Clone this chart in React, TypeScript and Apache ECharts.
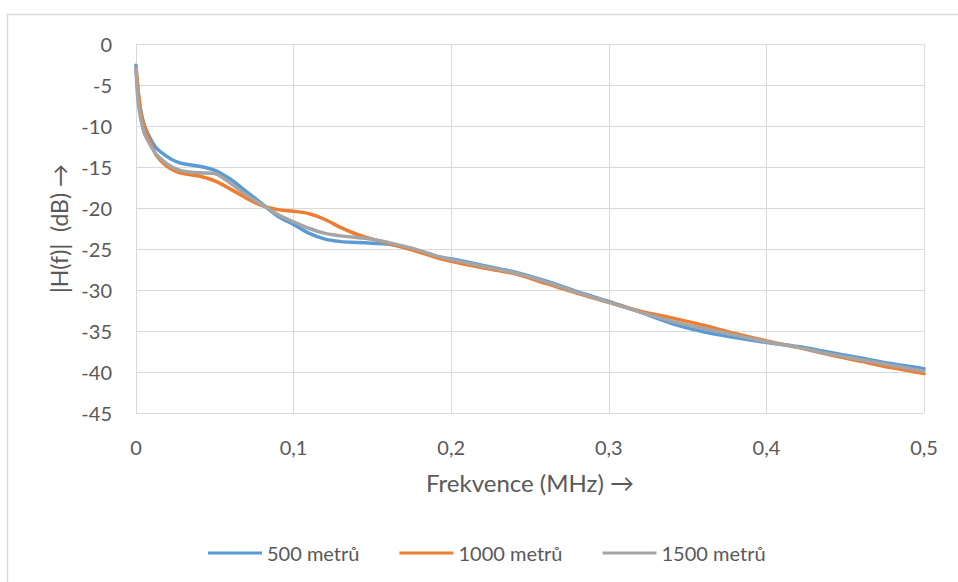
import React, { useEffect, useRef } from "react";
import * as echarts from "echarts";

const freqMHz = [0, 0.0008, 0.002, 0.0035, 0.0055, 0.009, 0.013, 0.0195, 0.025, 0.03, 0.04, 0.05, 0.06, 0.07, 0.08, 0.09, 0.1, 0.11, 0.12, 0.13, 0.14, 0.15, 0.16, 0.175, 0.19, 0.2, 0.22, 0.24, 0.26, 0.28, 0.3, 0.32, 0.34, 0.36, 0.38, 0.4, 0.42, 0.44, 0.46, 0.48, 0.5];

const h500 = [-2.6, -4.8, -6.9, -8.6, -10.0, -11.5, -12.7, -13.7, -14.3, -14.6, -14.9, -15.4, -16.5, -18.0, -19.5, -21.0, -22.0, -23.1, -23.8, -24.1, -24.2, -24.3, -24.4, -25.0, -25.9, -26.2, -27.0, -27.8, -28.9, -30.2, -31.4, -32.7, -34.1, -35.1, -35.8, -36.4, -36.9, -37.6, -38.3, -39.0, -39.6];

const h1000 = [-2.9, -4.5, -6.8, -8.8, -10.3, -11.9, -13.6, -14.9, -15.5, -15.8, -16.1, -16.7, -17.7, -18.8, -19.7, -20.2, -20.4, -20.7, -21.4, -22.4, -23.2, -23.8, -24.3, -25.1, -26.0, -26.5, -27.3, -28.0, -29.2, -30.4, -31.5, -32.6, -33.4, -34.3, -35.3, -36.2, -37.0, -37.9, -38.7, -39.5, -40.2];

const h1500 = [-2.9, -5.9, -8.0, -9.6, -11.0, -12.3, -13.5, -14.6, -15.2, -15.5, -15.7, -15.8, -17.0, -18.4, -19.6, -20.8, -21.7, -22.5, -23.1, -23.4, -23.6, -23.8, -24.2, -24.9, -25.8, -26.3, -27.1, -27.9, -29.0, -30.3, -31.5, -32.7, -33.8, -34.7, -35.5, -36.3, -37.0, -37.8, -38.5, -39.2, -39.9];

const seriesNames = ["500 metrů", "1000 metrů", "1500 metrů"];
const seriesColors = ["#5B9BD5", "#ED7D31", "#A5A5A5"];
const xTitle = "Frekvence (MHz) →";
const yTitle = "|H(f)|  (dB) →";

const FONT = "Lato, 'Open Sans', sans-serif";

export default function App() {
  const ref = useRef<HTMLDivElement>(null);
  useEffect(() => {
    if (!ref.current) return;
    const chart = echarts.init(ref.current, null, { renderer: "svg" });
    const all = [h500, h1000, h1500];
    chart.setOption({
      animation: false,
      backgroundColor: "#ffffff",
      textStyle: { fontFamily: FONT },
      graphic: [
        {
          type: "rect",
          z: -1,
          silent: true,
          shape: { x: 7.5, y: 14.5, width: 1200, height: 1200 },
          style: { fill: "none", stroke: "#d9d9d9", lineWidth: 1.5 },
        },
      ],
      grid: { left: 136, right: 34, top: 44, bottom: 169, containLabel: false },
      legend: {
        left: 208,
        top: 543,
        padding: 0,
        itemWidth: 54,
        itemHeight: 3,
        itemGap: 40,
        icon: "rect",
        data: seriesNames,
        textStyle: { fontFamily: FONT, fontSize: 20, color: "#595959" },
      },
      xAxis: {
        type: "value",
        min: 0,
        max: 0.5,
        interval: 0.1,
        name: xTitle,
        nameLocation: "middle",
        nameGap: 57,
        nameTextStyle: { fontFamily: FONT, fontSize: 24, color: "#595959" },
        axisLine: { show: true, lineStyle: { color: "#d9d9d9", width: 1 } },
        axisTick: { show: false },
        axisLabel: {
          margin: 24,
          fontFamily: FONT,
          fontSize: 20,
          color: "#595959",
          formatter: (v: number) => (v === 0 ? "0" : v.toFixed(1).replace(".", ",")),
        },
        splitLine: { show: true, lineStyle: { color: "#d9d9d9", width: 1 } },
      },
      yAxis: {
        type: "value",
        min: -45,
        max: 0,
        interval: 5,
        name: yTitle,
        nameLocation: "middle",
        nameGap: 64,
        nameTextStyle: { fontFamily: FONT, fontSize: 23, color: "#595959" },
        axisLine: { show: true, lineStyle: { color: "#d9d9d9", width: 1 } },
        axisTick: { show: false },
        axisLabel: { margin: 24, fontFamily: FONT, fontSize: 20, color: "#595959" },
        splitLine: { show: true, lineStyle: { color: "#d9d9d9", width: 1 } },
      },
      series: seriesNames.map((name, i) => ({
        name,
        type: "line",
        smooth: 0.3,
        showSymbol: false,
        symbol: "none",
        color: seriesColors[i],
        lineStyle: { width: 3.5, color: seriesColors[i], cap: "round", join: "round" },
        data: freqMHz.map((f, k) => [f, all[i][k]]),
        z: 2 + i,
      })),
    });
    return () => chart.dispose();
  }, []);
  return (
    <div
      ref={ref}
      style={{ position: "fixed", left: 0, top: 0, width: 958, height: 582 }}
    />
  );
}
